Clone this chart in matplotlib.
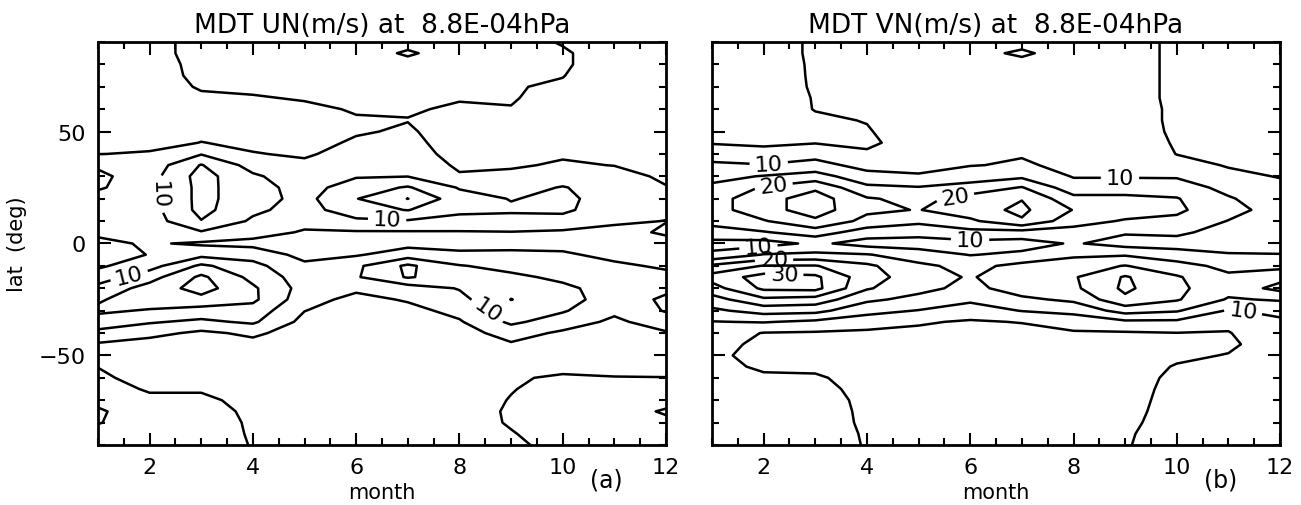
import numpy as np
import matplotlib
matplotlib.use('Agg')
import matplotlib.pyplot as plt
from matplotlib.ticker import MultipleLocator

# ejes: meses y latitudes (de 90 a -90 cada 5 grados)
months = list(range(1, 13))
lats = list(range(90, -91, -5))

# amplitud UN (m/s), una lista por mes, latitudes de 90 a -90
un_by_month = [
    [3, 3, 3, 3, 3, 3, 3, 3, 3, 3.5, 4.9, 9.5, 10.8, 10.3, 9, 8, 7, 5.8, 4, 2.5, 4.2, 7.5, 11.5, 14.5, 15.8, 13, 8.5, 4.5, 3, 4.9, 6, 7, 8.5, 10.8, 10.3, 8, 7],
    [3.5, 3.5, 3.5, 3.5, 3.5, 3.5, 3.5, 3.5, 3.5, 3.5, 5.5, 7, 8, 8.5, 8.5, 8, 7.5, 6.5, 5.5, 5.2, 8, 13, 17, 17.5, 14.6, 10.5, 6.5, 3, 2, 2, 3, 4.5, 6, 6.5, 7, 7, 7],
    [6.5, 6.5, 6, 5.8, 5.3, 4.5, 4, 3.5, 4, 5.1, 9.7, 15.3, 17, 16.5, 16.5, 16.5, 14.8, 9.5, 4.3, 8.5, 16, 21, 22, 18.5, 13, 9, 4, 3, 2.5, 2.5, 3, 4.5, 6, 7, 7.5, 7.5, 7],
    [6.5, 6.5, 6.5, 6, 5.5, 4.8, 4, 3.5, 3.5, 4.2, 5.2, 8, 10.8, 12, 12, 11, 9.2, 7, 3.5, 8, 11.5, 13.5, 15.8, 16, 13, 10.8, 6, 3.5, 2.5, 2.5, 2.5, 3, 3.5, 4, 4.3, 4.5, 4.8],
    [6.5, 6.3, 6, 5.8, 5.5, 5.2, 4.5, 3.5, 3, 3.5, 4.5, 5.8, 7, 8, 8.5, 8, 6.5, 4.5, 2.5, 3.5, 6, 7.5, 8, 7, 5.1, 3.5, 2.5, 2, 2, 2, 2.5, 3, 3, 3.5, 3.5, 3.5, 3.5],
    [6.5, 6.5, 6.3, 6, 5.8, 5.5, 5.2, 4.8, 4.6, 5.6, 6.5, 8, 9.6, 12.5, 14.8, 13, 9, 4.5, 3, 4.5, 9, 9.5, 6, 3.5, 2.5, 2, 2, 2, 2, 2, 2.5, 3, 3, 3.5, 3.5, 3.5, 3.5],
    [6, 4.6, 6, 5.8, 5.6, 5.4, 5.3, 4.9, 5.5, 6.5, 7.5, 8.5, 9.9, 15.5, 20.1, 15.2, 9.5, 4.5, 3.5, 7.5, 16, 15.5, 7.5, 5.5, 3.5, 2.5, 2, 2, 2, 2, 2, 2.5, 3, 3.5, 3.5, 4, 4],
    [7, 6.5, 6, 5.8, 5.5, 5.2, 4.6, 3.5, 3, 2.5, 3, 4.2, 5.5, 9.6, 12, 11, 8.5, 4.6, 3.2, 6, 10.3, 12, 10.3, 8.5, 6.5, 4.5, 3, 2.5, 2, 2, 2.5, 3, 3, 3.5, 3.5, 4, 4.5],
    [6.5, 6.3, 6, 5.5, 5.2, 5.2, 4.9, 4, 3, 3, 3.5, 4.5, 6, 8, 9.8, 10.6, 8.5, 4.8, 3.5, 6, 8.5, 11, 13.5, 15.1, 13, 11, 7, 4.5, 3, 3, 4.6, 4.8, 5.2, 5.4, 5.3, 4.8, 4.4],
    [4.7, 5.5, 5.5, 5.1, 4.6, 4, 3.5, 3, 3, 3.5, 4.5, 5.5, 7.5, 10.3, 11, 10.8, 8.5, 4.2, 3.2, 5.8, 7.5, 9, 11, 12, 10.5, 7.5, 4.2, 3, 3, 4, 5.5, 6.5, 7, 7, 7, 6.5, 6],
    [3, 3, 3, 3, 3, 3, 3, 3.2, 3.5, 3.8, 4.3, 4.9, 6.5, 7.5, 8, 7.5, 5.8, 3.5, 2.5, 3.5, 6, 7.5, 8, 7.5, 6, 4, 3, 2.5, 2.5, 3.5, 5.2, 6.5, 7.5, 8, 7.5, 7, 7],
    [3, 3, 3, 3, 3, 3, 3, 3, 3, 3, 3.2, 3.6, 4.3, 5.2, 6.2, 6, 4.9, 5.6, 3.5, 3, 4.2, 6.5, 9, 10.8, 10.4, 7.5, 4.5, 3, 2.8, 3.5, 5.1, 7, 8.5, 10.5, 9, 8, 7.5],
]

# amplitud VN (m/s), una lista por mes, latitudes de 90 a -90
vn_by_month = [
    [2, 2, 2, 2.5, 2.5, 3, 3, 3.5, 4, 4.7, 7.5, 11, 13.5, 16, 18, 18, 16.5, 13, 8.5, 10.8, 21, 27, 23, 18, 14, 9.8, 7.5, 6.5, 6, 6, 6, 6.5, 7, 7, 7, 7, 7],
    [2, 2, 2, 2.5, 3, 3, 3.5, 3.5, 4, 4.5, 6, 10.3, 15.3, 20.5, 23, 23, 19.6, 14.6, 8, 15.3, 25.3, 32, 31, 24, 17, 10.3, 4.8, 4, 3.5, 4.5, 5.5, 6, 6.5, 6.5, 6.5, 6.5, 6.5],
    [6, 6, 5.8, 5.6, 5.4, 5.2, 5.1, 4.6, 4, 4.8, 8, 12, 17, 24, 27.5, 27.5, 24, 17.5, 11, 16, 25.3, 31, 31.5, 23, 16.5, 9, 4.5, 3.5, 3, 4.2, 5.5, 6, 6.5, 6.5, 6.5, 6.5, 6.5],
    [6, 6, 6, 5.8, 5.6, 5.4, 5.2, 5.1, 4.8, 4.2, 5.6, 8, 12, 16, 20.5, 21, 18.5, 12.5, 8, 15.3, 21, 22, 20.5, 16, 11.5, 7.5, 4, 3, 2.5, 3, 3.5, 4, 4.2, 4.4, 4.5, 4.7, 4.8],
    [6.5, 6.3, 6.2, 6, 6, 6, 6, 6.2, 6.5, 7, 8, 8.5, 10.5, 15.3, 18.5, 19.8, 16, 12, 7.5, 12.5, 16, 17.5, 16.5, 13.5, 9.8, 5.5, 4, 3, 2.5, 2.5, 2.5, 2.5, 3, 3, 3, 3, 3],
    [6.5, 6, 6, 6, 6, 6.2, 6.5, 7, 7.5, 8, 9, 9.8, 12.5, 17, 22, 23, 19, 13.5, 8.5, 9.8, 13.5, 14.5, 13.5, 11, 7.5, 4.5, 3.5, 3, 2.5, 2.5, 2.5, 2.5, 2.5, 3, 3, 3, 3],
    [6, 4.5, 6, 6.5, 7, 7.5, 8, 8.5, 9, 9.3, 9.7, 10.5, 14, 20.3, 24.8, 26, 24.5, 13, 8, 11, 16.5, 18.5, 17.5, 14, 10.2, 5.2, 3.5, 3, 3, 3, 3, 3, 3, 3, 3, 3, 3],
    [6.5, 6.5, 6.5, 7, 7, 7.5, 7.5, 8, 8, 8.5, 8.5, 9, 9.7, 12, 16.5, 19.8, 17, 13, 10.5, 14, 18, 19.5, 19, 16, 11.5, 7, 4.5, 3.5, 3, 3, 3, 3, 3, 3, 3, 3, 3],
    [7, 7, 7, 7, 7, 7, 7.5, 7.5, 7.5, 8, 8.5, 9, 9.7, 12, 16.5, 17.5, 14.5, 10.5, 8, 14.5, 20.2, 25.5, 26, 24, 17, 9, 4.5, 3.5, 3, 3, 3, 3, 3, 3.5, 4, 4.5, 4.7],
    [4, 4, 4, 4, 4, 4, 4, 4, 4.2, 4.5, 4.9, 6.5, 9.5, 12.5, 15.3, 15.8, 14, 11, 8, 12, 17, 20.5, 21, 20.5, 15.5, 9, 4.9, 3.8, 4.2, 5.3, 6, 6.5, 7, 7, 7, 7, 7],
    [3, 3, 3, 3, 3, 3, 3, 3.2, 3.5, 3.8, 4.2, 4.7, 6, 8.5, 10.5, 12, 9.8, 8, 7, 10.5, 13.5, 16, 17, 14.5, 9.5, 6, 4.8, 4.2, 5.2, 6, 6.5, 7, 7, 7, 7, 7, 7],
    [3, 3, 3, 3, 3, 3, 3, 3, 3.2, 3.5, 4, 4.5, 4.8, 6, 7, 7.5, 7.5, 7.5, 7.5, 10.2, 13.5, 18.5, 21.5, 15.5, 11.5, 9, 8, 7.5, 7, 7, 7, 7, 7, 7, 7, 7, 7],
]

plain_levels = [5, 15, 25, 35]
un_label_levels = [10, 20]
vn_label_levels = [10, 20, 30]
month_ticks = [2, 4, 6, 8, 10, 12]
lat_ticks = [-50, 0, 50]

plt.rcParams['font.family'] = 'DejaVu Sans'

fig = plt.figure(figsize=(13.01, 5.06), dpi=100)
ax1 = fig.add_axes([0.0753, 0.1186, 0.4366, 0.7964])
ax2 = fig.add_axes([0.5473, 0.1186, 0.4366, 0.7964])

paneles = [
    (ax1, un_by_month, un_label_levels, 'MDT UN(m/s) at  8.8E-04hPa', '(a)',
     [(2.6, 22), (6.6, 11), (1.6, -14), (8.6, -28)]),
    (ax2, vn_by_month, vn_label_levels, 'MDT VN(m/s) at  8.8E-04hPa', '(b)',
     [(2.1, 35), (2.2, 24), (5.7, 22), (8.9, 28), (6.0, 3), (1.9, -2), (2.2, -8), (2.4, -13), (11.3, -28)]),
]

for ax, datos, niveles_lab, titulo, letra, pos_etiquetas in paneles:
    z = np.array(datos).T  # filas = latitudes, columnas = meses
    ax.contour(months, lats, z, levels=plain_levels, colors='black', linewidths=1.8)
    cs = ax.contour(months, lats, z, levels=niveles_lab, colors='black', linewidths=1.8)
    # solo etiquetamos la linea de 10 en UN, y 10/20/30 en VN
    ax.clabel(cs, fmt='%d', fontsize=16, inline=True, inline_spacing=5,
              manual=pos_etiquetas)

    ax.set_xlim(1, 12)
    ax.set_ylim(-90, 90)
    ax.set_xticks(month_ticks)
    ax.xaxis.set_minor_locator(MultipleLocator(0.5))
    ax.set_yticks(lat_ticks)
    ax.yaxis.set_minor_locator(MultipleLocator(10))
    ax.tick_params(which='both', direction='in', top=True, right=True, width=1.5)
    ax.tick_params(which='major', length=9, labelsize=16, pad=9)
    ax.tick_params(which='minor', length=5)
    for s in ax.spines.values():
        s.set_linewidth(2)
    ax.set_xlabel('month', fontsize=15, labelpad=3)
    ax.set_title(titulo, fontsize=19, pad=7)
    ax.text(0.895, -0.085, letra, transform=ax.transAxes, fontsize=17,
            ha='center', va='center')

ax1.set_ylabel('lat  (deg)', fontsize=15, labelpad=8)
ax2.set_yticklabels([])

fig.savefig('out.png', dpi=100)
